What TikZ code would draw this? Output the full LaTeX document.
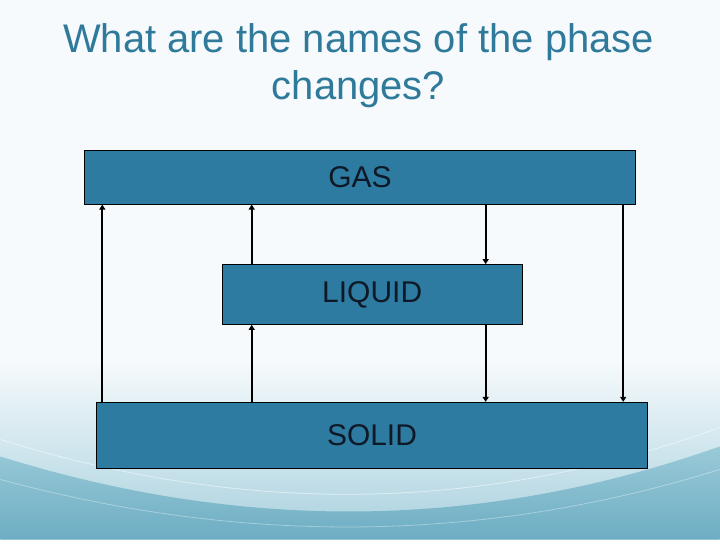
\documentclass[tikz,border=0pt]{standalone}
\usepackage{fontspec}
\setmainfont{Liberation Sans}
\usetikzlibrary{arrows.meta}
\definecolor{slidetop}{HTML}{F6FAFC}
\definecolor{slidelow}{HTML}{A9D1DE}
\definecolor{slidewave}{HTML}{9ACAD8}
\definecolor{slidedeep}{HTML}{6DADC3}
\definecolor{titleblue}{HTML}{2F7A9B}
\definecolor{phasefill}{HTML}{2D7BA0}
\definecolor{phasetext}{HTML}{0E1826}
\tikzset{
  phase/.style={rectangle,draw=black,line width=0.8pt,fill=phasefill,
    text=phasetext,font=\fontsize{30}{36}\selectfont,inner sep=0pt},
  change/.style={line width=1.8pt,-{Triangle[length=5pt,width=6pt]}}
}
\begin{document}
\begin{tikzpicture}[x=1pt,y=1pt]
        % slide background
        \fill[slidetop] (0,0) rectangle (720,540);
        \shade[top color=slidetop,bottom color=slidelow] (0,0) rectangle (720,180);
        \shade[top color=slidewave,bottom color=slidedeep] (0,83) .. controls (240,8) and (480,8) .. (720,93) -- (720,0) -- (0,0) -- cycle;
        \draw[white,opacity=0.5,line width=0.8pt] (0,100) .. controls (240,25) and (480,25) .. (720,112);
        \draw[white,opacity=0.35,line width=0.8pt] (0,60) .. controls (240,-5) and (480,-5) .. (720,70);
        \useasboundingbox (0,0) rectangle (720,540);
        % title
        \node[text=titleblue,font=\fontsize{40}{47}\selectfont,align=center,anchor=base] (title) at (358.5,440) {What are the names of the phase\\changes?};
        % phases
        \node at (360,362.6) [phase,minimum width=552,minimum height=54] (gas) {GAS};
        \node at (372.2,245.2) [phase,minimum width=300,minimum height=60] (liquid) {LIQUID};
        \node at (372,104.3) [phase,minimum width=552,minimum height=66] (solid) {SOLID};
        \coordinate (x1) at (102,0);
        \coordinate (x2) at (251.6,0);
        \coordinate (x3) at (485.8,0);
        \coordinate (x4) at (623.5,0);
        \draw[change] (x1 |- solid.north) -- (x1 |- gas.south);
        \draw[change] (x2 |- liquid.north) -- (x2 |- gas.south);
        \draw[change] (x2 |- solid.north) -- (x2 |- liquid.south);
        \draw[change] (x3 |- gas.south) -- (x3 |- liquid.north);
        \draw[change] (x3 |- liquid.south) -- (x3 |- solid.north);
        \draw[change] (x4 |- gas.south) -- (x4 |- solid.north);
\end{tikzpicture}
\end{document}
